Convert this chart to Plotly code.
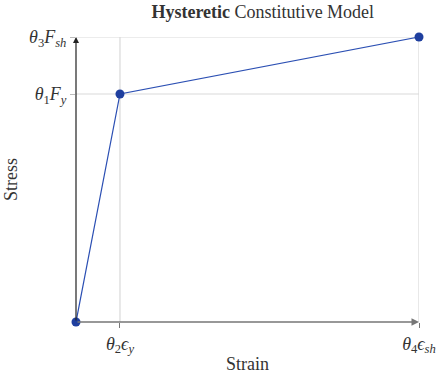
import plotly.graph_objects as go

# Backbone of the hysteretic constitutive model (normalized)
strain = [0.0, 1.0, 7.8]
stress = [0.0, 1.0, 1.25]

x_tickvals = [1.0, 7.8]
x_ticktext = ["<i>θ</i><sub>2</sub><i>ϵ</i><sub><i>y</i></sub>",
              "<i>θ</i><sub>4</sub><i>ϵ</i><sub><i>sh</i></sub>"]
y_tickvals = [1.0, 1.25]
y_ticktext = ["<i>θ</i><sub>1</sub><i>F</i><sub><i>y</i></sub>",
              "<i>θ</i><sub>3</sub><i>F</i><sub><i>sh</i></sub>"]

serif = "Liberation Serif"
txt = "#333333"
grid = "#d9d9d9"

fig = go.Figure()

# grid lines at the tick positions (drawn as shapes so the edge ones show too)
for xv in x_tickvals:
    fig.add_shape(type="line", xref="x", yref="y", x0=xv, x1=xv, y0=0, y1=stress[-1],
                  line=dict(color=grid, width=1.2), layer="below")
for yv in y_tickvals:
    fig.add_shape(type="line", xref="x", yref="y", x0=0, x1=strain[-1], y0=yv, y1=yv,
                  line=dict(color=grid, width=1.2), layer="below")

fig.add_trace(go.Scatter(
    x=strain, y=stress, mode="lines+markers",
    line=dict(color="#2b4fb3", width=1.2),
    marker=dict(color="#1f3f9f", size=9),
    cliponaxis=False, showlegend=False,
))

# axis arrows
fig.add_annotation(x=strain[-1], y=0, ax=0, ay=0, xref="x", yref="y",
                   axref="x", ayref="y", showarrow=True, arrowhead=2,
                   arrowsize=1, arrowwidth=1.5, arrowcolor="#777777", text="")
fig.add_annotation(x=0, y=stress[-1], ax=0, ay=0, xref="x", yref="y",
                   axref="x", ayref="y", showarrow=True, arrowhead=2,
                   arrowsize=1, arrowwidth=1.2, arrowcolor="#222222", text="")

fig.update_layout(
    width=438, height=376,
    margin=dict(l=76, r=19, t=37, b=54),
    paper_bgcolor="white", plot_bgcolor="white",
    font=dict(family=serif, size=17, color=txt),
    title=dict(text="<b>Hysteretic</b> Constitutive Model", x=0.6, xanchor="center",
               y=0.985, yanchor="top", font=dict(family=serif, size=18, color=txt)),
    xaxis=dict(range=[0, strain[-1]], tickvals=x_tickvals, ticktext=x_ticktext,
               showgrid=False, zeroline=False, automargin=False,
               showline=False, ticks="outside", ticklen=5, tickcolor="#777777",
               tickfont=dict(family=serif, size=18, color=txt),
               title=dict(text="Strain", standoff=2,
                          font=dict(family=serif, size=18, color=txt)),
               fixedrange=True),
    yaxis=dict(range=[0, stress[-1]], tickvals=y_tickvals, ticktext=y_ticktext,
               showgrid=False, zeroline=False, automargin=False,
               showline=False, ticks="outside", ticklen=5, tickcolor="#bbbbbb",
               tickfont=dict(family=serif, size=18, color=txt),
               title=dict(text="Stress", standoff=6,
                          font=dict(family=serif, size=18, color=txt)),
               fixedrange=True),
)

fig.write_html("out.html")
